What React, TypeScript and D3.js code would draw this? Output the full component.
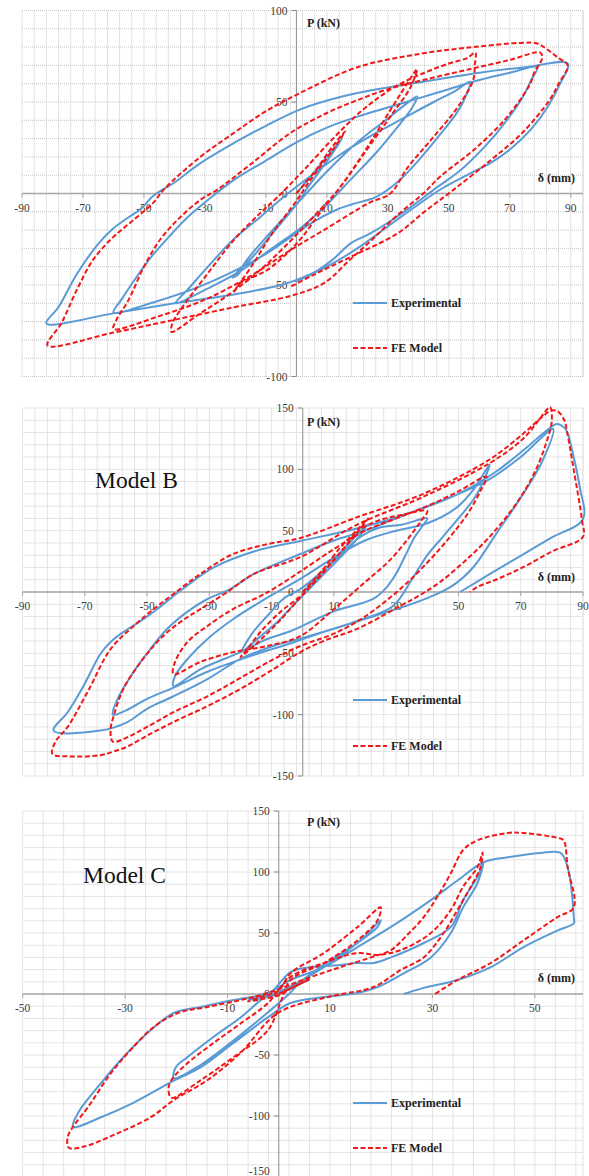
import React, { useEffect, useRef } from 'react';
import * as d3 from 'd3';

type Pt = [number, number];

// ---- Model A (top) ----
const expA: Pt[] = [
  [0, 0], [6, 12], [12, 24], [15, 30], [11, 20], [4, 4], [0, -6], [-8, -22], [-14, -34], [-20, -44], [-21, -46], [-19, -44],
  [-17, -38], [-10, -24], [0, -6], [10, 12], [20, 28], [30, 41], [36, 49], [39.6, 53],
  [38, 47], [33, 36], [26, 22], [18, 8], [10, -6], [2, -18], [-8, -30], [-18, -42], [-28, -51], [-39.7, -60],
  [-35.7, -52.6], [-29, -40], [-20.6, -25], [-11.8, -12.8], [-4.3, -2], [5, 10], [15, 22], [25, 32], [35, 41], [45, 50], [52, 56], [57, 61],
  [56, 55], [53, 45], [47, 32], [40, 18], [33, 6], [26, -2], [18, -6], [13, -9], [5, -16], [-2, -24], [-10, -33], [-20, -42], [-32, -51], [-46, -59], [-60, -65],
  [-57.4, -58], [-53, -47], [-47.8, -35], [-42, -24], [-35.7, -13], [-29, -3.5], [-20, 8], [-10, 18], [0, 28], [10, 36], [20, 42], [30, 47], [40, 52], [50, 57], [60, 62], [70, 66], [79, 69],
  [77, 62], [74, 52], [69, 40], [62, 26], [54, 13], [45, 2], [37, -8], [30, -16], [24, -22], [18, -27], [12, -36], [7, -42], [2, -46], [-5, -50], [-20, -55], [-40, -60], [-60, -65.5], [-82, -71],
  [-78, -62], [-72, -44], [-65, -27.5], [-60, -19], [-55.4, -13.4], [-51, -8.4], [-47, -1.4], [-40, 6], [-31.5, 16.6], [-20.6, 27.5], [-10, 37], [1.3, 46], [15, 53], [30, 58], [45, 62], [60, 66], [75, 69], [89, 71],
  [86.5, 60], [82.3, 47], [76.7, 34.6], [70, 24], [63.6, 16.6], [57, 11], [48, 3], [40, -6], [30, -18], [20, -30], [10, -40], [0, -48],
];

const feA: Pt[] = [
  [0, 0], [6, 12], [12, 26], [16, 34], [12, 24], [4, 6], [0, -4], [-8, -22], [-14, -38], [-20.6, -54],
  [-18.4, -49], [-14, -45.5], [-9.5, -41.7], [-4.3, -34.6], [1.3, -25], [8, -10], [15, 5], [22, 22], [28, 38], [34, 54], [39.6, 68],
  [37.4, 58], [30.8, 42], [23, 23.7], [14.4, 3.5], [6, -12], [-2, -26], [-12, -42], [-22, -55], [-32, -66], [-41, -75.6],
  [-40.6, -70.6], [-38, -63.5], [-29, -43.5], [-20.6, -25.6], [-11.8, -10.6], [-6.2, -2], [2, 12], [12, 30], [22, 46], [32, 58], [42, 66], [50, 71], [56, 74], [58.7, 77],
  [58.5, 70], [58, 62], [52.8, 47], [44, 29], [36.4, 14], [30.8, 0], [24, -5], [9, -20], [-2, -31], [-15, -45], [-30, -58], [-45, -67], [-60, -74],
  [-59, -69], [-55, -58], [-50, -40], [-44.6, -25], [-38, -12.8], [-31.5, -3.5], [-26, 2], [-15, 16], [-2, 33], [10, 44], [20, 51], [30, 57], [41.6, 62], [57, 68], [70, 73], [80, 77],
  [80.6, 74], [78, 66], [76.7, 60], [69, 41.6], [59, 25], [47, 9], [41.6, 0], [33, -12], [25, -25], [17.7, -36], [9, -49], [-2, -56], [-20, -62], [-40, -69], [-60, -76], [-81.6, -83],
  [-77, -70.6], [-72, -52.6], [-66.6, -36], [-60, -23.7], [-53.4, -14.4], [-46.9, -5], [-43.6, 2], [-31.5, 20], [-20.6, 33], [-9.5, 45.5], [1.3, 55], [20, 69], [41.6, 76.6], [58, 80], [73.4, 82.3], [79, 82], [82, 79], [86, 74], [89, 70],
  [86, 60], [83, 51], [74, 33], [63.6, 18], [51.5, 2], [42, -10], [33, -22], [17.7, -34.7], [5, -45], [-2, -51],
];

// ---- Model B ----
const expB: Pt[] = [
  [0, 0], [6, 15], [12, 32], [18, 48], [20.7, 55],
  [18, 45], [12, 28], [5, 10], [-2, -8], [-8, -24], [-14, -37], [-19.4, -48],
  [-15.9, -32.6], [-11.4, -19.6], [-6.3, -5.7], [-0.8, 2.4], [6, 16], [12, 30], [18, 44], [24, 52], [32, 55], [40, 60],
  [38.5, 54], [36, 45], [33, 30], [30, 15], [27, 4], [22.6, -5.7], [9.8, -16], [-4, -32], [-11.4, -38.3], [-20, -49], [-32.9, -63], [-41.5, -76.6],
  [-41, -68.5], [-37, -54.6], [-30.6, -38.3], [-22.3, -22], [-13.6, -8], [-8.2, 0], [0, 12], [10, 28], [20, 42], [30, 50], [40, 56], [49.5, 69], [55, 84], [60, 104],
  [58, 90], [55, 76], [50, 60], [45, 45], [40, 30], [35, 10], [29, -11.4], [17.5, -23.6], [6.6, -32.6], [-4, -42], [-10.4, -47], [-20, -55], [-30.6, -65], [-41.5, -78], [-49.9, -87], [-56.3, -96], [-61, -100],
  [-59.4, -87], [-55.2, -68.5], [-49.7, -49], [-43.5, -30], [-37, -16], [-30.6, -5.7], [-23.3, 2.4], [-15.7, 14.7], [-0.8, 31], [10, 42], [20, 50], [30, 60], [40, 70], [50, 80], [60, 92], [70, 110], [80.4, 133],
  [77, 107], [70.8, 80], [62, 47], [54.7, 20], [48, 5], [40, -5], [30, -14], [20, -22], [10, -30], [-0.8, -38], [-9.5, -44], [-20, -54.6], [-30.6, -71], [-41.5, -85], [-49.9, -95], [-56.3, -106], [-65, -113], [-80, -113],
  [-75.5, -98], [-70.4, -76.6], [-65, -50.5], [-61.7, -40.7], [-57.6, -32.6], [-52, -23.6], [-46.7, -13.8], [-41.5, -3.3], [-38.6, 2.4], [-28.6, 20], [-15.7, 33], [-0.8, 41.6], [19.4, 53], [35, 65], [50, 80], [62, 98], [72, 118], [78, 131], [81.6, 137], [84, 134], [85, 130], [87, 110], [89, 85], [90, 59.5],
  [80, 44.5], [70, 29.5], [60, 14.5], [50.5, 0],
];

const feB: Pt[] = [
  [0, 0], [6, 17], [12, 36], [18, 52], [21, 60],
  [18, 50], [12, 32], [5, 12], [-2, -8], [-8, -25], [-14, -40], [-20, -53],
  [-17.8, -46.5], [-13.6, -32.6], [-7.2, -16.3], [-0.8, -3.3], [6, 14], [12, 32], [18, 50], [24, 58], [32, 63], [40, 66],
  [38, 58], [34, 44], [28, 26], [20, 8], [10, -14], [-0.8, -36], [-11.4, -44], [-22.3, -49], [-32.9, -57], [-41.5, -67],
  [-41, -57], [-37, -40.7], [-30.6, -27.7], [-22.3, -13.8], [-13.6, -3.3], [-9.5, 2.4], [0, 18], [10, 35], [20, 50], [30, 60], [40, 70], [50, 82], [59, 94],
  [57, 82], [53, 64], [47, 44], [40, 24], [32, 4], [20, -20], [10, -34], [-0.8, -44], [-9.5, -55], [-20, -70], [-30.6, -85], [-41.5, -98], [-50, -110], [-56, -118], [-61, -122],
  [-61.7, -112], [-60.7, -101], [-57.6, -79], [-52, -57], [-45.7, -38], [-39.3, -24.4], [-32.9, -14], [-24.2, 0], [-15.7, 14.7], [-0.8, 28.5], [17.5, 55], [38.7, 77.6], [60, 105], [70.8, 125], [77.3, 145], [79.4, 150.7],
  [80, 140], [78, 120], [74, 95], [68, 70], [60, 45], [52, 25], [44, 8], [38, -2], [31.3, -11.4], [17.5, -30], [6.6, -40], [-0.8, -49], [-9.5, -63], [-20, -79], [-30.6, -93], [-41.5, -106], [-49.9, -117], [-56.3, -126], [-60.7, -130], [-65, -133], [-75.5, -134], [-80.4, -132],
  [-79.4, -122], [-75.5, -110], [-69, -81], [-61.7, -46.5], [-54.3, -27.7], [-47.8, -13.8], [-41.5, -1.6], [-32.9, 14.7], [-22.3, 31], [-11.4, 39], [-0.8, 44], [17.5, 61], [38.7, 80], [60, 108], [70.8, 129], [77, 143], [80, 148], [82, 147], [84, 140], [85, 129], [87, 100], [89.7, 58], [90, 45],
  [80, 33], [70.6, 20], [62, 10], [56, 4], [53.7, 0],
];

// ---- Model C ----
const expC: Pt[] = [
  [0, 0], [4, 8], [6, 12], [3, 6], [0, 0], [-3, -3], [-6, -5], [-3, -2], [0, 2],
  [4, 10], [8.8, 22], [13, 34], [17, 48], [19.9, 60.6],
  [19.3, 55], [15.4, 42], [8.8, 24], [4.3, 10], [2, 0], [-2.1, -15], [-8.8, -38], [-15.2, -58], [-20.5, -69],
  [-20.1, -60], [-17.8, -51.6], [-12.7, -35], [-7.4, -19], [-3.5, -4.9], [-1, 3.3], [2.3, 18], [6.2, 22], [12.1, 23.8], [15.4, 25.4], [18.5, 25.4], [21.9, 30], [28.3, 41.8], [33.6, 55], [36, 77], [38.8, 96], [40, 108],
  [38.8, 91], [36, 71], [33.6, 50], [29.7, 30], [24.4, 17], [19.3, 5.7], [15.4, 0.8], [8.8, -2.5], [2.3, -7.4], [-2.1, -19], [-8.8, -40], [-15.2, -60], [-20.5, -71], [-28.3, -89], [-34.7, -101], [-40.2, -109],
  [-39.2, -97.5], [-34.7, -73], [-29.5, -48], [-25, -29.5], [-20.5, -15.6], [-15.2, -10.6], [-8.8, -4.9], [-2.1, 0.8], [2.3, 11.5], [8.8, 22], [15.4, 38.5], [21.9, 55], [29.7, 77], [34.9, 93], [40, 108], [44.7, 112], [51, 115.6], [55, 115.6], [56.4, 104], [57.6, 63], [57.6, 58],
  [54.4, 52], [47.8, 38.5], [41.4, 22], [34.9, 11.5], [28.3, 5], [24.4, 0],
];

const feC: Pt[] = [
  [0, 0], [3, 6], [6, 12], [3, 6], [0, -1], [-3, -4], [-6, -6], [-3, -2], [0, 3],
  [2.3, 17], [8.8, 33.6], [15.4, 55], [19.9, 71],
  [19.3, 60.6], [15.4, 44], [8.8, 25.4], [2.3, 11.5], [0.5, -5], [-2.1, -29.5], [-8.8, -51.6], [-15.2, -70.5], [-21, -85],
  [-21.5, -76], [-20.5, -68], [-17.8, -56.6], [-12.7, -40], [-7.4, -24], [-2.1, -7.4], [2.3, 14], [8.8, 25.4], [15.4, 33.6], [19.3, 32], [23.8, 36], [29.7, 50], [33.6, 69], [36, 88], [38.8, 104], [39.8, 116],
  [39.4, 104], [37.5, 88], [34.9, 69], [32.2, 50], [28.3, 30], [23.8, 19.7], [18.5, 5.7], [10, -2], [-0.2, -15.6], [-7.4, -48], [-13.9, -70.5], [-20.5, -87], [-25, -101], [-31.4, -114], [-38, -125], [-41, -126],
  [-41.2, -117], [-40.2, -109], [-37.3, -93], [-32.8, -65], [-28.3, -43], [-24.4, -27], [-19.7, -15.6], [-13.9, -10.6], [-7.4, -4.9], [-2.1, 0.8], [5, 12], [12, 22], [18, 30], [21.9, 36], [25, 48], [28.3, 63], [31, 80], [33.6, 99], [36, 118], [38.8, 126], [44.7, 132], [47.8, 132], [54.4, 128], [55.6, 126], [56.4, 104], [57.6, 71],
  [54.4, 63], [47.8, 44], [41.4, 25.4], [34.9, 11.5], [30.2, -0.8],
];

const xTicksAB = [-90, -70, -50, -30, -10, 10, 30, 50, 70, 90];
const xTicksC = [-50, -30, -10, 10, 30, 50];
const yTicksA = [-100, -50, 0, 50, 100];
const yTicksBC = [-150, -100, -50, 0, 50, 100, 150];
const legendLabels = ['Experimental', 'FE Model'];
const modelTitles = ['', 'Model B', 'Model C'];

const BLUE = '#5b9bd5';
const RED = '#f01818';
const SERIF = '"Liberation Serif", "Times New Roman", serif';

const App: React.FC = () => {
  const svgRef = useRef<SVGSVGElement>(null);

  useEffect(() => {
    if (!svgRef.current) return;
    const svg = d3.select(svgRef.current);
    svg.selectAll('*').remove();

    const panels = [
      { xd: [-90, 94], xr: [22, 583], yd: [-100, 100], yr: [376.5, 10.5], xt: xTicksAB, yt: yTicksA, exp: expA, fe: feA, dotted: true, leg: [303, 348], pY: 27, dY: 182, tx: 0, ty: 0 },
      { xd: [-90, 90], xr: [22.5, 583], yd: [-150, 150], yr: [776, 408], xt: xTicksAB, yt: yTicksBC, exp: expB, fe: feB, dotted: false, leg: [700, 746], pY: 426, dY: 581, tx: 95, ty: 488 },
      { xd: [-50, 59.4], xr: [22.7, 583], yd: [-150, 150], yr: [1177, 811], xt: xTicksC, yt: yTicksBC, exp: expC, fe: feC, dotted: false, leg: [1103, 1148], pY: 826, dY: 982, tx: 83, ty: 883 },
    ];

    panels.forEach((p, i) => {
      const x = d3.scaleLinear().domain(p.xd).range(p.xr);
      const y = d3.scaleLinear().domain(p.yd).range(p.yr);
      const g = svg.append('g');

      // minor grid: every 4 mm and every 10 kN
      const gx = d3.range(p.xd[0], p.xd[1] + 0.01, 4).concat([p.xd[1]]);
      const gy = d3.range(p.yd[0], p.yd[1] + 0.01, 10);
      const gridColor = p.dotted ? '#c4c4c4' : '#e4e4e4';
      g.selectAll('.gx').data(gx).enter().append('line')
        .attr('x1', d => x(d)).attr('x2', d => x(d))
        .attr('y1', y(p.yd[0])).attr('y2', y(p.yd[1]))
        .attr('stroke', gridColor).attr('stroke-width', 1)
        .attr('stroke-dasharray', p.dotted ? '1,1' : null);
      g.selectAll('.gy').data(gy).enter().append('line')
        .attr('x1', x(p.xd[0])).attr('x2', x(p.xd[1]))
        .attr('y1', d => y(d)).attr('y2', d => y(d))
        .attr('stroke', gridColor).attr('stroke-width', 1)
        .attr('stroke-dasharray', p.dotted ? '1,1' : null);

      // axes through the origin
      g.append('line')
        .attr('x1', x(0)).attr('x2', x(0))
        .attr('y1', y(p.yd[0])).attr('y2', y(p.yd[1]))
        .attr('stroke', '#8c8c8c').attr('stroke-width', 1);
      g.append('line')
        .attr('x1', x(p.xd[0])).attr('x2', x(p.xd[1]))
        .attr('y1', y(0)).attr('y2', y(0))
        .attr('stroke', '#a6a6a6').attr('stroke-width', 1.5);

      g.selectAll('.yt').data(p.yt).enter().append('line')
        .attr('x1', x(0) - 5).attr('x2', x(0))
        .attr('y1', d => y(d)).attr('y2', d => y(d))
        .attr('stroke', '#8c8c8c');
      g.selectAll('.xtk').data(p.xt).enter().append('line')
        .attr('x1', d => x(d)).attr('x2', d => x(d))
        .attr('y1', y(0)).attr('y2', y(0) + 4)
        .attr('stroke', '#a6a6a6');

      g.selectAll('.yl').data(p.yt).enter().append('text')
        .attr('x', x(0) - 9).attr('y', d => Math.min(y(d) + 4, 1175))
        .attr('text-anchor', 'end')
        .attr('font-family', SERIF).attr('font-size', 11.5).attr('fill', '#404040')
        .text(d => d);
      g.selectAll('.xl').data(p.xt).enter().append('text')
        .attr('x', d => x(d)).attr('y', y(0) + 18)
        .attr('text-anchor', 'middle')
        .attr('font-family', SERIF).attr('font-size', 11.5).attr('fill', '#404040')
        .text(d => d);

      // series
      const line = d3.line<Pt>()
        .x(d => x(d[0])).y(d => y(d[1]))
        .curve(d3.curveCatmullRom.alpha(0.5));
      g.append('path').datum(p.exp).attr('d', line)
        .attr('fill', 'none').attr('stroke', BLUE).attr('stroke-width', 2);
      g.append('path').datum(p.fe).attr('d', line)
        .attr('fill', 'none').attr('stroke', RED).attr('stroke-width', 2)
        .attr('stroke-dasharray', '5,2.5');

      // axis titles
      g.append('text').attr('x', 307).attr('y', p.pY)
        .attr('font-family', SERIF).attr('font-weight', 'bold').attr('font-size', 12).attr('fill', '#222')
        .text('P (kN)');
      g.append('text').attr('x', 575).attr('y', p.dY).attr('text-anchor', 'end')
        .attr('font-family', SERIF).attr('font-weight', 'bold').attr('font-size', 12).attr('fill', '#222')
        .text('δ (mm)');

      if (modelTitles[i]) {
        g.append('text').attr('x', p.tx).attr('y', p.ty)
          .attr('font-family', SERIF).attr('font-size', 23.5).attr('fill', '#111')
          .text(modelTitles[i]);
      }

      // legend
      legendLabels.forEach((lab, k) => {
        const ly = p.leg[k];
        g.append('line').attr('x1', 353).attr('x2', 387).attr('y1', ly).attr('y2', ly)
          .attr('stroke', k === 0 ? BLUE : RED).attr('stroke-width', 2)
          .attr('stroke-dasharray', k === 0 ? null : '5,2.5');
        g.append('text').attr('x', 391).attr('y', ly + 4)
          .attr('font-family', SERIF).attr('font-weight', 'bold').attr('font-size', 12).attr('fill', '#222')
          .text(lab);
      });
    });
  }, []);

  return (
    <div style={{ position: 'absolute', left: 0, top: 0, background: '#fff' }}>
      <svg ref={svgRef} width={589} height={1176} style={{ display: 'block' }}></svg>
    </div>
  );
};

export default App;
